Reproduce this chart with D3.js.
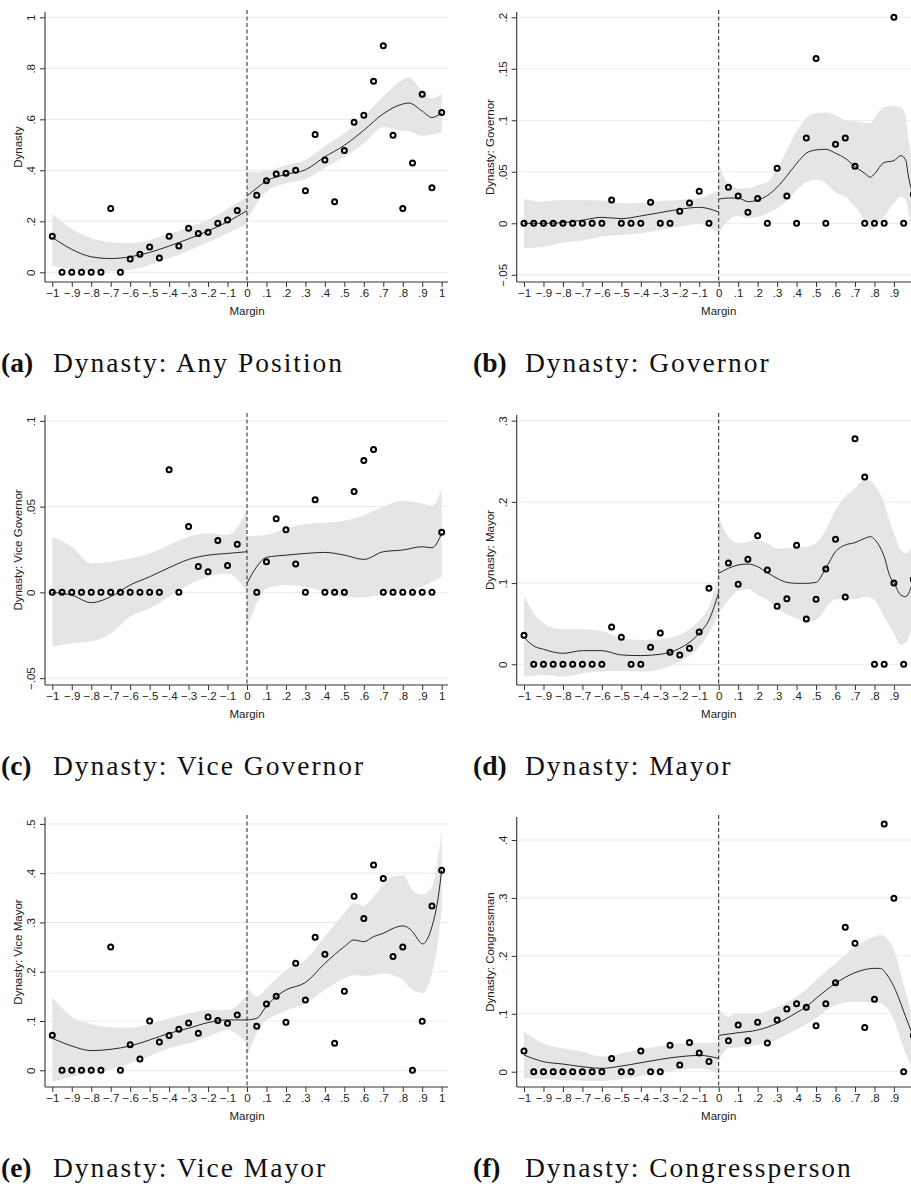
<!DOCTYPE html>
<html>
<head>
<meta charset="utf-8">
<script src="https://cdn.jsdelivr.net/npm/d3@7"></script>
<style>
  html, body { margin: 0; padding: 0; background: #fff; }
  svg { display: block; }
</style>
</head>
<body>
<svg id="fig" width="911" height="1186"></svg>
<script>
// Bin centres of the running variable (vote margin), below and above the cutoff
const binCentres = [-1, -0.95, -0.9, -0.85, -0.8, -0.75, -0.7, -0.65, -0.6, -0.55,
  -0.5, -0.45, -0.4, -0.35, -0.3, -0.25, -0.2, -0.15, -0.1, -0.05,
  0.05, 0.1, 0.15, 0.2, 0.25, 0.3, 0.35, 0.4, 0.45, 0.5,
  0.55, 0.6, 0.65, 0.7, 0.75, 0.8, 0.85, 0.9, 0.95, 1];

const xTicks = [-1, -0.9, -0.8, -0.7, -0.6, -0.5, -0.4, -0.3, -0.2, -0.1, 0,
  0.1, 0.2, 0.3, 0.4, 0.5, 0.6, 0.7, 0.8, 0.9, 1];
const xTickLabels = ["\u22121", "\u2212.9", "\u2212.8", "\u2212.7", "\u2212.6", "\u2212.5", "\u2212.4", "\u2212.3", "\u2212.2", "\u2212.1", "0",
  ".1", ".2", ".3", ".4", ".5", ".6", ".7", ".8", ".9", "1"];

// Binned means per outcome
const anyPositionMeans = [0.141, 0, 0, 0, 0, 0, 0.25, 0, 0.052, 0.071,
  0.099, 0.056, 0.141, 0.103, 0.173, 0.152, 0.157, 0.192, 0.205, 0.242,
  0.302, 0.359, 0.386, 0.388, 0.4, 0.32, 0.54, 0.44, 0.277, 0.478,
  0.588, 0.616, 0.749, 0.888, 0.537, 0.25, 0.429, 0.698, 0.332, 0.627];
const governorMeans = [0, 0, 0, 0, 0, 0, 0, 0, 0, 0.0227,
  0, 0, 0, 0.0204, 0, 0, 0.0117, 0.0197, 0.031, 0,
  0.035, 0.0265, 0.0107, 0.024, 0, 0.0534, 0.0265, 0, 0.0828, 0.16,
  0, 0.0767, 0.0828, 0.0553, 0, 0, 0, 0.2, 0, 0.028];
const viceGovernorMeans = [0, 0, 0, 0, 0, 0, 0, 0, 0, 0,
  0, 0, 0.0715, 0, 0.0384, 0.0151, 0.012, 0.0303, 0.0157, 0.028,
  0, 0.0179, 0.0429, 0.0365, 0.0165, 0, 0.054, 0, 0, 0,
  0.0588, 0.0769, 0.0833, 0, 0, 0, 0, 0, 0, 0.035];
const mayorMeans = [0.0357, 0, 0, 0, 0, 0, 0, 0, 0, 0.046,
  0.0332, 0, 0, 0.0209, 0.0386, 0.0148, 0.0115, 0.0197, 0.0398, 0.0936,
  0.1247, 0.0985, 0.1293, 0.1584, 0.1161, 0.0714, 0.0808, 0.1465, 0.0558, 0.08,
  0.1174, 0.1539, 0.0829, 0.2778, 0.2306, 0, 0, 0.1001, 0, 0.1046];
const viceMayorMeans = [0.071, 0, 0, 0, 0, 0, 0.25, 0, 0.052, 0.023,
  0.1, 0.0575, 0.0704, 0.0832, 0.0961, 0.0751, 0.1083, 0.1008, 0.0954, 0.1123,
  0.0893, 0.1346, 0.1502, 0.0974, 0.2172, 0.1428, 0.27, 0.2355, 0.0548, 0.1604,
  0.3532, 0.3078, 0.4168, 0.389, 0.2307, 0.2503, 0, 0.0995, 0.3336, 0.406];
const congressmanMeans = [0.0357, 0, 0, 0, 0, 0, 0, 0, 0, 0.023,
  0, 0, 0.0357, 0, 0, 0.0455, 0.0115, 0.0506, 0.0322, 0.0178,
  0.0535, 0.0806, 0.0535, 0.0852, 0.0495, 0.0892, 0.1082, 0.1174, 0.1111, 0.0794,
  0.1174, 0.1537, 0.2492, 0.2216, 0.0765, 0.1249, 0.4276, 0.2993, 0, 0.0627];

// Local polynomial fits with 95% bands: [margin, fit, lower, upper]
const anyPositionFitLeft = [
  [-1, 0.137, 0.026, 0.229], [-0.9, 0.09, 0.012, 0.17], [-0.8, 0.061, 0.004, 0.135],
  [-0.7, 0.054, 0.004, 0.118], [-0.6, 0.061, 0.01, 0.114], [-0.5, 0.078, 0.029, 0.127],
  [-0.4, 0.103, 0.055, 0.151], [-0.3, 0.131, 0.085, 0.177], [-0.2, 0.162, 0.118, 0.206],
  [-0.1, 0.198, 0.152, 0.248], [0, 0.242, 0.19, 0.297]];
const anyPositionFitRight = [
  [0, 0.299, 0.205, 0.394], [0.05, 0.33, 0.27, 0.392], [0.1, 0.358, 0.316, 0.398],
  [0.2, 0.384, 0.349, 0.42], [0.3, 0.402, 0.365, 0.44], [0.4, 0.453, 0.41, 0.495],
  [0.5, 0.498, 0.452, 0.545], [0.6, 0.557, 0.505, 0.612], [0.7, 0.622, 0.57, 0.69],
  [0.8, 0.66, 0.555, 0.755], [0.83, 0.664, 0.553, 0.765], [0.9, 0.632, 0.535, 0.71],
  [0.95, 0.607, 0.54, 0.682], [1, 0.626, 0.548, 0.7]];

const governorFitLeft = [
  [-1, 0, -0.0243, 0.0236], [-0.9, 0, -0.0227, 0.021], [-0.8, 0.0006, -0.0188, 0.0225],
  [-0.7, 0.003, -0.0168, 0.0225], [-0.6, 0.0058, -0.0129, 0.022], [-0.5, 0.0045, -0.0113, 0.0195],
  [-0.4, 0.0071, -0.0097, 0.02], [-0.3, 0.0104, -0.0065, 0.0217], [-0.2, 0.0136, -0.0032, 0.0227],
  [-0.1, 0.0155, -0.0006, 0.0245], [0, 0.011, -0.0097, 0.032]];
const governorFitRight = [
  [0, 0.0235, -0.0097, 0.058], [0.05, 0.0245, 0.003, 0.038], [0.1, 0.0245, 0.007, 0.034],
  [0.15, 0.021, 0.005, 0.034], [0.2, 0.0225, 0.006, 0.037], [0.25, 0.027, 0.0097, 0.04],
  [0.3, 0.035, 0.0146, 0.053], [0.35, 0.046, 0.022, 0.071], [0.4, 0.058, 0.032, 0.089],
  [0.45, 0.068, 0.04, 0.102], [0.5, 0.0712, 0.042, 0.107], [0.55, 0.0718, 0.039, 0.1075],
  [0.6, 0.068, 0.03, 0.105], [0.65, 0.063, 0.026, 0.1], [0.7, 0.055, 0.016, 0.099],
  [0.75, 0.0485, 0.003, 0.0975], [0.78, 0.0447, -0.0065, 0.097], [0.8, 0.048, -0.004, 0.102],
  [0.85, 0.059, 0.0065, 0.113], [0.9, 0.0608, 0.0194, 0.114], [0.935, 0.0657, 0.026, 0.113],
  [0.96, 0.0615, 0.023, 0.104], [0.975, 0.045, 0.01, 0.081], [1, 0.025, -0.01, 0.06]];

const viceGovernorFitLeft = [
  [-1, 0, -0.0317, 0.0324], [-0.9, -0.0016, -0.0297, 0.0266], [-0.8, -0.006, -0.0287, 0.0169],
  [-0.7, -0.0025, -0.0239, 0.0179], [-0.6, 0.0043, -0.0142, 0.0198], [-0.5, 0.0091, -0.0093, 0.0227],
  [-0.4, 0.0144, -0.0025, 0.0276], [-0.3, 0.0192, 0.0043, 0.0324], [-0.2, 0.0217, 0.0091, 0.0344],
  [-0.1, 0.0227, 0.011, 0.0334], [0, 0.0237, 0.0004, 0.048]];
const viceGovernorFitRight = [
  [0, 0.0052, -0.02, 0.0324], [0.05, 0.015, -0.0064, 0.033], [0.1, 0.0204, 0.0023, 0.0334],
  [0.2, 0.0217, 0.0043, 0.0373], [0.3, 0.0227, 0.0033, 0.0398], [0.4, 0.0233, 0.0004, 0.0406],
  [0.5, 0.0217, -0.0025, 0.0417], [0.6, 0.0192, -0.003, 0.045], [0.7, 0.0237, -0.001, 0.0499],
  [0.8, 0.0247, 0.0014, 0.0534], [0.9, 0.0266, 0.0033, 0.0518], [0.95, 0.026, 0.0062, 0.0503],
  [1, 0.0344, 0.0091, 0.0606]];

const mayorFitLeft = [
  [-1, 0.0332, -0.0152, 0.0845], [-0.95, 0.0226, -0.014, 0.0628], [-0.9, 0.0185, -0.0131, 0.0505],
  [-0.8, 0.0135, -0.0152, 0.0431], [-0.7, 0.0168, -0.011, 0.0431], [-0.6, 0.0168, -0.009, 0.041],
  [-0.5, 0.0115, -0.0078, 0.032], [-0.4, 0.0107, -0.009, 0.03], [-0.3, 0.0123, -0.0062, 0.0308],
  [-0.2, 0.0197, 0.0033, 0.0361], [-0.1, 0.0382, 0.0217, 0.0546], [-0.05, 0.0546, 0.0382, 0.071],
  [0, 0.0882, 0.0628, 0.114]];
const mayorFitRight = [
  [0, 0.112, 0.0628, 0.1797], [0.05, 0.1182, 0.0792, 0.1572], [0.1, 0.1223, 0.0907, 0.149],
  [0.15, 0.1235, 0.0927, 0.151], [0.2, 0.1202, 0.0854, 0.153], [0.25, 0.1128, 0.0792, 0.149],
  [0.3, 0.1059, 0.0689, 0.1428], [0.35, 0.1009, 0.0616, 0.1428], [0.4, 0.0997, 0.0566, 0.1449],
  [0.45, 0.0997, 0.0525, 0.1449], [0.5, 0.1009, 0.0546, 0.149], [0.55, 0.1182, 0.069, 0.1654],
  [0.6, 0.1387, 0.08, 0.19], [0.65, 0.1469, 0.08, 0.2064], [0.7, 0.1498, 0.08, 0.2167],
  [0.75, 0.1551, 0.0833, 0.2277], [0.78, 0.1572, 0.082, 0.226], [0.8, 0.1539, 0.0792, 0.2208],
  [0.85, 0.1325, 0.0587, 0.1982], [0.88, 0.108, 0.046, 0.175], [0.9, 0.1005, 0.0382, 0.1613],
  [0.935, 0.0853, 0.0238, 0.1407], [0.96, 0.0833, 0.0259, 0.1366], [1, 0.1038, 0.0546, 0.149]];

const viceMayorFitLeft = [
  [-1, 0.065, -0.023, 0.148], [-0.9, 0.0494, -0.0129, 0.109], [-0.8, 0.0399, -0.0027, 0.094],
  [-0.7, 0.0426, 0.002, 0.0873], [-0.6, 0.0494, 0.0142, 0.0866], [-0.5, 0.0616, 0.0291, 0.094],
  [-0.4, 0.0751, 0.0447, 0.1055], [-0.3, 0.0853, 0.0548, 0.1157], [-0.2, 0.0968, 0.0683, 0.1225],
  [-0.1, 0.1022, 0.0819, 0.1225], [0, 0.1022, 0.0548, 0.153]];
const viceMayorFitRight = [
  [0, 0.1022, 0.0277, 0.17], [0.05, 0.1055, 0.0751, 0.1495], [0.1, 0.1306, 0.1022, 0.1664],
  [0.15, 0.1495, 0.112, 0.186], [0.2, 0.163, 0.1211, 0.2037], [0.3, 0.178, 0.136, 0.224],
  [0.4, 0.217, 0.163, 0.2713], [0.5, 0.251, 0.1867, 0.3187], [0.55, 0.2645, 0.1935, 0.339],
  [0.6, 0.261, 0.1915, 0.3336], [0.65, 0.2713, 0.193, 0.3525], [0.7, 0.278, 0.1969, 0.3762],
  [0.75, 0.288, 0.193, 0.3931], [0.8, 0.293, 0.1834, 0.3965], [0.85, 0.2815, 0.163, 0.366],
  [0.88, 0.2645, 0.158, 0.358], [0.9, 0.2564, 0.1563, 0.356], [0.95, 0.2916, 0.1969, 0.3728],
  [0.98, 0.3457, 0.26, 0.43], [1, 0.406, 0.3254, 0.4844]];

const congressmanFitLeft = [
  [-1, 0.0288, -0.0115, 0.069], [-0.9, 0.0173, -0.0132, 0.0489], [-0.8, 0.0132, -0.0144, 0.0403],
  [-0.7, 0.0086, -0.0155, 0.0345], [-0.6, 0.0058, -0.0161, 0.0259], [-0.5, 0.0098, -0.0132, 0.0317],
  [-0.4, 0.0155, -0.0075, 0.0386], [-0.3, 0.0213, -0.0017, 0.0443], [-0.2, 0.0259, 0.004, 0.0489],
  [-0.1, 0.0282, 0.0058, 0.05], [0, 0.023, -0.0029, 0.05]];
const congressmanFitRight = [
  [0, 0.0627, 0.0201, 0.1094], [0.05, 0.065, 0.0403, 0.095], [0.1, 0.0673, 0.042, 0.1007],
  [0.2, 0.0719, 0.046, 0.1007], [0.3, 0.0835, 0.0558, 0.1122], [0.4, 0.1019, 0.0731, 0.1295],
  [0.45, 0.1122, 0.082, 0.142], [0.5, 0.1266, 0.0921, 0.1583], [0.6, 0.1525, 0.1151, 0.187],
  [0.7, 0.171, 0.1209, 0.2158], [0.8, 0.1784, 0.1191, 0.2331], [0.83, 0.1784, 0.118, 0.236],
  [0.865, 0.167, 0.1094, 0.229], [0.9, 0.1468, 0.0892, 0.2101], [0.935, 0.118, 0.0547, 0.1698],
  [0.96, 0.095, 0.0317, 0.138], [1, 0.06, 0.0, 0.09]];

const panels = [
  { letter: "(a)", caption: "Dynasty: Any Position", yTitle: "Dynasty", col: 0, row: 0,
    yDomain: [-0.038, 1.0208], yTicks: [0, 0.2, 0.4, 0.6, 0.8, 1], yTickLabels: ["0", ".2", ".4", ".6", ".8", "1"],
    means: anyPositionMeans, fitLeft: anyPositionFitLeft, fitRight: anyPositionFitRight },
  { letter: "(b)", caption: "Dynasty: Governor", yTitle: "Dynasty: Governor", col: 1, row: 0,
    yDomain: [-0.057, 0.2051], yTicks: [-0.05, 0, 0.05, 0.1, 0.15, 0.2], yTickLabels: ["\u2212.05", "0", ".05", ".1", ".15", ".2"],
    means: governorMeans, fitLeft: governorFitLeft, fitRight: governorFitRight },
  { letter: "(c)", caption: "Dynasty: Vice Governor", yTitle: "Dynasty: Vice Governor", col: 0, row: 1,
    yDomain: [-0.054, 0.1034], yTicks: [-0.05, 0, 0.05, 0.1], yTickLabels: ["\u2212.05", "0", ".05", ".1"],
    means: viceGovernorMeans, fitLeft: viceGovernorFitLeft, fitRight: viceGovernorFitRight },
  { letter: "(d)", caption: "Dynasty: Mayor", yTitle: "Dynasty: Mayor", col: 1, row: 1,
    yDomain: [-0.0255, 0.307], yTicks: [0, 0.1, 0.2, 0.3], yTickLabels: ["0", ".1", ".2", ".3"],
    means: mayorMeans, fitLeft: mayorFitLeft, fitRight: mayorFitRight },
  { letter: "(e)", caption: "Dynasty: Vice Mayor", yTitle: "Dynasty: Vice Mayor", col: 0, row: 2,
    yDomain: [-0.0339, 0.514], yTicks: [0, 0.1, 0.2, 0.3, 0.4, 0.5], yTickLabels: ["0", ".1", ".2", ".3", ".4", ".5"],
    means: viceMayorMeans, fitLeft: viceMayorFitLeft, fitRight: viceMayorFitRight },
  { letter: "(f)", caption: "Dynasty: Congressperson", yTitle: "Dynasty: Congressman", col: 1, row: 2,
    yDomain: [-0.0264, 0.4397], yTicks: [0, 0.1, 0.2, 0.3, 0.4], yTickLabels: ["0", ".1", ".2", ".3", ".4"],
    means: congressmanMeans, fitLeft: congressmanFitLeft, fitRight: congressmanFitRight }
];

// Panel geometry (local to each subfigure)
const geom = { axisX: 45, xStart: 52.3, xEnd: 441.7, plotRight: 448, top: 12, bottom: 282 };
const colOffsets = [0, 471.7];
const rowOffsets = [0, 403, 805];
const sans = "'Liberation Sans', Arial, Helvetica, sans-serif";
const serif = "'Liberation Serif', 'Times New Roman', serif";

const svg = d3.select("#fig");
svg.append("rect").attr("width", 911).attr("height", 1186).attr("fill", "#fff");

panels.forEach(p => {
  const g = svg.append("g")
    .attr("transform", `translate(${colOffsets[p.col]},${rowOffsets[p.row]})`);

  const x = d3.scaleLinear().domain([-1, 1]).range([geom.xStart, geom.xEnd]);
  const y = d3.scaleLinear().domain(p.yDomain).range([geom.bottom, geom.top]);

  // horizontal grid lines
  g.append("g").selectAll("line").data(p.yTicks).join("line")
    .attr("x1", geom.axisX).attr("x2", geom.plotRight)
    .attr("y1", d => y(d)).attr("y2", d => y(d))
    .attr("stroke", "#e4edf0").attr("stroke-width", 1);

  // confidence bands and fitted lines on each side of the cutoff
  const area = d3.area().x(d => x(d[0])).y0(d => y(d[2])).y1(d => y(d[3]))
    .curve(d3.curveMonotoneX);
  const line = d3.line().x(d => x(d[0])).y(d => y(d[1])).curve(d3.curveMonotoneX);
  [p.fitLeft, p.fitRight].forEach(fit => {
    g.append("path").attr("d", area(fit)).attr("fill", "#e5e5e5");
  });

  // cutoff
  g.append("line")
    .attr("x1", x(0)).attr("x2", x(0)).attr("y1", geom.top - 2).attr("y2", geom.bottom)
    .attr("stroke", "#222").attr("stroke-width", 1).attr("stroke-dasharray", "4,2.5");

  [p.fitLeft, p.fitRight].forEach(fit => {
    g.append("path").attr("d", line(fit)).attr("fill", "none")
      .attr("stroke", "#111").attr("stroke-width", 0.9);
  });

  // binned means
  g.append("g").selectAll("circle").data(p.means).join("circle")
    .attr("cx", (d, i) => x(binCentres[i])).attr("cy", d => y(d))
    .attr("r", 2.5).attr("fill", "none").attr("stroke", "#000").attr("stroke-width", 2);

  // axes
  g.append("line").attr("x1", geom.axisX).attr("x2", geom.axisX)
    .attr("y1", geom.top).attr("y2", geom.bottom).attr("stroke", "#333").attr("stroke-width", 1.1);
  g.append("line").attr("x1", geom.axisX).attr("x2", geom.plotRight)
    .attr("y1", geom.bottom).attr("y2", geom.bottom).attr("stroke", "#333").attr("stroke-width", 1.1);

  const gx = g.append("g").attr("transform", `translate(0,${geom.bottom})`)
    .call(d3.axisBottom(x).tickValues(xTicks).tickFormat((d, i) => xTickLabels[i])
      .tickSize(5).tickPadding(2));
  gx.select(".domain").remove();
  gx.selectAll(".tick line").attr("stroke", "#333");
  gx.selectAll(".tick text").attr("fill", "#222")
    .style("font-family", sans).style("font-size", "11.5px");

  const gy = g.append("g").attr("transform", `translate(${geom.axisX},0)`)
    .call(d3.axisLeft(y).tickValues(p.yTicks).tickFormat((d, i) => p.yTickLabels[i]).tickSize(5));
  gy.select(".domain").remove();
  gy.selectAll(".tick line").attr("stroke", "#333");
  gy.selectAll(".tick text")
    .attr("x", null).attr("dy", null)
    .attr("transform", "translate(-10,0) rotate(-90)")
    .attr("text-anchor", "middle").attr("fill", "#222")
    .style("font-family", sans).style("font-size", "11.5px");

  // axis titles
  g.append("text").attr("x", x(0)).attr("y", 315).attr("text-anchor", "middle")
    .attr("fill", "#222").style("font-family", sans).style("font-size", "11.5px").text("Margin");
  g.append("text")
    .attr("transform", `translate(22,${(geom.top + geom.bottom) / 2}) rotate(-90)`)
    .attr("text-anchor", "middle").attr("fill", "#222")
    .style("font-family", sans).style("font-size", "11.5px").text(p.yTitle);

  // subfigure caption
  const capX = p.col === 0 ? 0 : 472 - colOffsets[1];
  g.append("text").attr("x", capX + 1).attr("y", 372)
    .style("font-family", serif).style("font-size", "27.5px").style("font-weight", "bold")
    .attr("fill", "#111").text(p.letter);
  g.append("text").attr("x", capX + 53).attr("y", 372)
    .style("font-family", serif).style("font-size", "27.5px").style("letter-spacing", "2px")
    .attr("fill", "#111").text(p.caption);
});
</script>
</body>
</html>
